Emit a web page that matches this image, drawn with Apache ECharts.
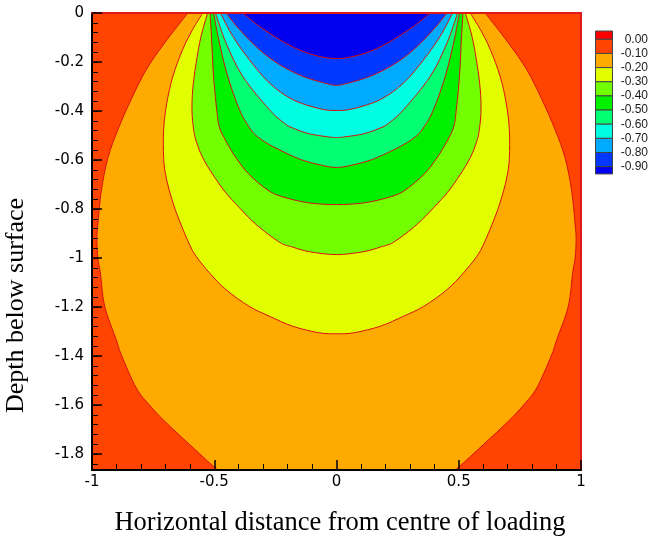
<!DOCTYPE html>
<html>
<head>
<meta charset="utf-8">
<script src="https://cdn.jsdelivr.net/npm/echarts@6/dist/echarts.min.js"></script>
<style>
html,body{margin:0;padding:0;background:#ffffff;}
#chart{width:652px;height:539px;}
</style>
</head>
<body>
<div id="chart"></div>
<script>
// ---------------- data ----------------
const xTicks = [-1, -0.5, 0, 0.5, 1];
const xTickLabels = ['-1', '-0.5', '0', '0.5', '1'];
const yTicks = [0, -0.2, -0.4, -0.6, -0.8, -1, -1.2, -1.4, -1.6, -1.8];
const yTickLabels = ['0', '-0.2', '-0.4', '-0.6', '-0.8', '-1', '-1.2', '-1.4', '-1.6', '-1.8'];
const levelLabels = ['0.00', '-0.10', '-0.20', '-0.30', '-0.40', '-0.50', '-0.60', '-0.70', '-0.80', '-0.90'];
// colour of each band: above 0.00, 0..-0.1, -0.1..-0.2, ... , below -0.90
const bandColors = ['#FF0000', '#FF4300', '#FFAA00', '#E2FF00', '#72FF00', '#00F000',
                    '#00FF72', '#00FFE2', '#00AAFF', '#0038FF', '#0000EE'];
const xTitle = 'Horizontal distance from centre of loading';
const yTitle = 'Depth below surface';

// contour lines, left half (x <= 0), from the surface downwards; the picture is symmetric about x = 0
const contour_m010 = [[-0.608, 0], [-0.703, -0.122], [-0.778, -0.231], [-0.840, -0.353], [-0.894, -0.476],
  [-0.935, -0.591], [-0.962, -0.727], [-0.976, -0.863], [-0.980, -0.924], [-0.976, -1.000], [-0.966, -1.060],
  [-0.948, -1.197], [-0.901, -1.333], [-0.878, -1.400], [-0.819, -1.530], [-0.765, -1.600], [-0.703, -1.666],
  [-0.601, -1.761], [-0.527, -1.829], [-0.486, -1.865]];
const contour_m020 = [[-0.547, 0], [-0.588, -0.067], [-0.629, -0.149], [-0.669, -0.258], [-0.694, -0.367],
  [-0.707, -0.476], [-0.707, -0.591], [-0.699, -0.659], [-0.683, -0.727], [-0.662, -0.795], [-0.636, -0.863],
  [-0.601, -0.945], [-0.574, -0.993], [-0.520, -1.060], [-0.452, -1.129], [-0.357, -1.197], [-0.275, -1.237],
  [-0.180, -1.278], [-0.071, -1.305], [0, -1.309]];
const contour_m030 = [[-0.527, 0], [-0.554, -0.095], [-0.574, -0.203], [-0.588, -0.312], [-0.591, -0.400],
  [-0.585, -0.470], [-0.574, -0.523], [-0.547, -0.591], [-0.506, -0.659], [-0.458, -0.727], [-0.397, -0.795],
  [-0.329, -0.863], [-0.234, -0.935], [-0.180, -0.955], [-0.111, -0.974], [0, -0.986]];
const contour_m040 = [[-0.517, 0], [-0.510, -0.122], [-0.503, -0.258], [-0.490, -0.394], [-0.479, -0.466],
  [-0.452, -0.523], [-0.411, -0.591], [-0.357, -0.659], [-0.275, -0.727], [-0.207, -0.754], [-0.111, -0.775],
  [0, -0.782]];
const contour_m050 = [[-0.503, 0], [-0.479, -0.122], [-0.445, -0.258], [-0.397, -0.394], [-0.360, -0.462],
  [-0.329, -0.500], [-0.275, -0.537], [-0.193, -0.578], [-0.125, -0.605], [-0.044, -0.625], [0, -0.630]];
const contour_m060 = [[-0.495, 0], [-0.452, -0.122], [-0.384, -0.258], [-0.275, -0.394], [-0.213, -0.450],
  [-0.180, -0.469], [-0.111, -0.493], [-0.030, -0.506], [0, -0.508]];
const contour_m070 = [[-0.475, 0], [-0.424, -0.095], [-0.357, -0.190], [-0.275, -0.285], [-0.180, -0.353],
  [-0.071, -0.390], [0, -0.398]];
const contour_m080 = [[-0.452, 0], [-0.397, -0.067], [-0.316, -0.149], [-0.234, -0.210], [-0.139, -0.258],
  [-0.044, -0.287], [0, -0.295]];
const contour_m090 = [[-0.384, 0], [-0.316, -0.054], [-0.234, -0.108], [-0.152, -0.151], [-0.071, -0.177],
  [0, -0.186]];

const contours = [contour_m010, contour_m020, contour_m030, contour_m040, contour_m050,
                  contour_m060, contour_m070, contour_m080, contour_m090];
const yMin = -1.865;

// ---------------- build the chart ----------------
function mirrorHalf(half) {
  const right = [];
  for (let k = half.length - 1; k >= 0; k--) {
    const p = half[k];
    if (p[0] === 0) continue;
    right.push([-p[0], p[1]]);
  }
  return right;
}
function fmt(p) { return p[0].toFixed(2) + ' ' + p[1].toFixed(2); }
// smooth curve (Catmull-Rom written as cubic Bezier) through the given pixel points, without the initial move
function splineSegs(pts) {
  let d = '';
  for (let i = 0; i < pts.length - 1; i++) {
    const p0 = pts[i - 1] || pts[i];
    const p1 = pts[i], p2 = pts[i + 1];
    const p3 = pts[i + 2] || p2;
    const c1 = [p1[0] + (p2[0] - p0[0]) / 6, p1[1] + (p2[1] - p0[1]) / 6];
    const c2 = [p2[0] - (p3[0] - p1[0]) / 6, p2[1] - (p3[1] - p1[1]) / 6];
    d += ' C' + fmt(c1) + ' ' + fmt(c2) + ' ' + fmt(p2);
  }
  return d;
}
function contourPaths(half, toPx) {
  const endsAtCentre = half[half.length - 1][0] === 0;
  const left = half.map(toPx);
  const right = mirrorHalf(half).map(toPx);
  if (endsAtCentre) {
    const full = left.concat(right);
    const d = 'M' + fmt(full[0]) + splineSegs(full);
    return {fill: d + ' Z', line: d};
  }
  const dl = 'M' + fmt(left[0]) + splineSegs(left);
  const rs = splineSegs(right);
  return {
    fill: dl + ' L' + fmt(right[0]) + rs + ' Z',
    line: dl + ' M' + fmt(right[0]) + rs
  };
}
function labelFor(ticks, labels, v) {
  for (let i = 0; i < ticks.length; i++) {
    if (Math.abs(ticks[i] - v) < 1e-6) return labels[i];
  }
  return '';
}

const chart = echarts.init(document.getElementById('chart'), null, {renderer: 'canvas'});

const tickFont = 'DejaVu Sans';
const graphics = [];
// legend
const lx = 595.5, lw = 17, ly0 = 39.3, lstep = 14.15;
graphics.push({type: 'rect', shape: {x: lx, y: 31, width: lw, height: ly0 - 31},
  style: {fill: bandColors[0], stroke: '#444', lineWidth: 1}});
for (let i = 0; i < levelLabels.length - 1; i++) {
  graphics.push({type: 'rect', shape: {x: lx, y: ly0 + i * lstep, width: lw, height: lstep},
    style: {fill: bandColors[i + 1], stroke: '#444', lineWidth: 1}});
}
graphics.push({type: 'rect', shape: {x: lx, y: ly0 + (levelLabels.length - 1) * lstep, width: lw, height: 7.3},
  style: {fill: bandColors[10], stroke: '#444', lineWidth: 1}});
levelLabels.forEach(function (t, i) {
  graphics.push({type: 'text', x: 648, y: ly0 + i * lstep,
    style: {text: t, fill: '#1a1a1a', font: '12px "Liberation Sans"', textAlign: 'right', textVerticalAlign: 'middle',
            align: 'right', verticalAlign: 'middle'}});
});
// axis titles
graphics.push({type: 'text', x: 340, y: 523,
  style: {text: xTitle, fill: '#000', font: '26.5px "Liberation Serif"', textAlign: 'center', textVerticalAlign: 'middle',
          align: 'center', verticalAlign: 'middle'}});
graphics.push({type: 'text', x: 16, y: 305.5, rotation: Math.PI / 2,
  style: {text: yTitle, fill: '#000', font: '26px "Liberation Serif"', textAlign: 'center', textVerticalAlign: 'middle',
          align: 'center', verticalAlign: 'middle'}});

const option = {
  animation: false,
  backgroundColor: '#ffffff',
  grid: {left: 92, top: 13, width: 489, height: 457, show: true, backgroundColor: bandColors[1], borderWidth: 0},
  xAxis: [
    {
      type: 'value', min: -1, max: 1, interval: 0.5, position: 'bottom', z: 10,
      axisLine: {show: true, onZero: false, lineStyle: {color: '#000', width: 2}},
      axisTick: {show: true, inside: true, length: 10, lineStyle: {color: '#000', width: 1.5}},
      minorTick: {show: true, splitNumber: 5, length: 6, lineStyle: {color: '#000', width: 1}},
      axisLabel: {margin: 5, color: '#000', fontSize: 15, fontFamily: tickFont,
        formatter: function (v) { return labelFor(xTicks, xTickLabels, v); }},
      splitLine: {show: false}, minorSplitLine: {show: false}
    },
    {
      type: 'value', min: -1, max: 1, position: 'top', z: 10,
      axisLine: {show: true, onZero: false, lineStyle: {color: '#E01818', width: 2}},
      axisTick: {show: false}, axisLabel: {show: false}, splitLine: {show: false}
    }
  ],
  yAxis: [
    {
      type: 'value', min: yMin, max: 0, minInterval: 0.2, maxInterval: 0.2, splitNumber: 9, position: 'left', z: 10,
      axisLine: {show: true, onZero: false, lineStyle: {color: '#000', width: 2}},
      axisTick: {show: true, inside: true, length: 10, lineStyle: {color: '#000', width: 1.5}},
      axisLabel: {margin: 8, color: '#000', fontSize: 15, fontFamily: tickFont,
        formatter: function (v) { return labelFor(yTicks, yTickLabels, v); }},
      splitLine: {show: false}
    },
    {
      type: 'value', min: yMin, max: 0, minInterval: 0.04, maxInterval: 0.04, splitNumber: 47, position: 'left', z: 9,
      axisLine: {show: false, onZero: false},
      axisTick: {show: true, inside: true, length: 6, lineStyle: {color: '#000', width: 1}},
      axisLabel: {show: false}, splitLine: {show: false}
    },
    {
      type: 'value', min: yMin, max: 0, position: 'right', z: 10,
      axisLine: {show: true, onZero: false, lineStyle: {color: '#E01818', width: 2}},
      axisTick: {show: false}, axisLabel: {show: false}, splitLine: {show: false}
    }
  ],
  series: [{
    type: 'custom',
    xAxisIndex: 0, yAxisIndex: 0,
    clip: true,
    silent: true,
    data: contours.map(function (c, i) { return [i]; }),
    encode: {x: -1, y: -1},
    renderItem: function (params, api) {
      const i = params.dataIndex;
      const paths = contourPaths(contours[i], function (p) { return api.coord(p); });
      return {
        type: 'group',
        children: [
          {type: 'path', z2: i, shape: {pathData: paths.fill},
           style: {fill: bandColors[i + 2], stroke: null}},
          {type: 'path', z2: 100 + i, shape: {pathData: paths.line},
           style: {fill: null, stroke: '#D81010', lineWidth: 1}}
        ]
      };
    }
  }],
  graphic: graphics
};
chart.setOption(option);
</script>
</body>
</html>
